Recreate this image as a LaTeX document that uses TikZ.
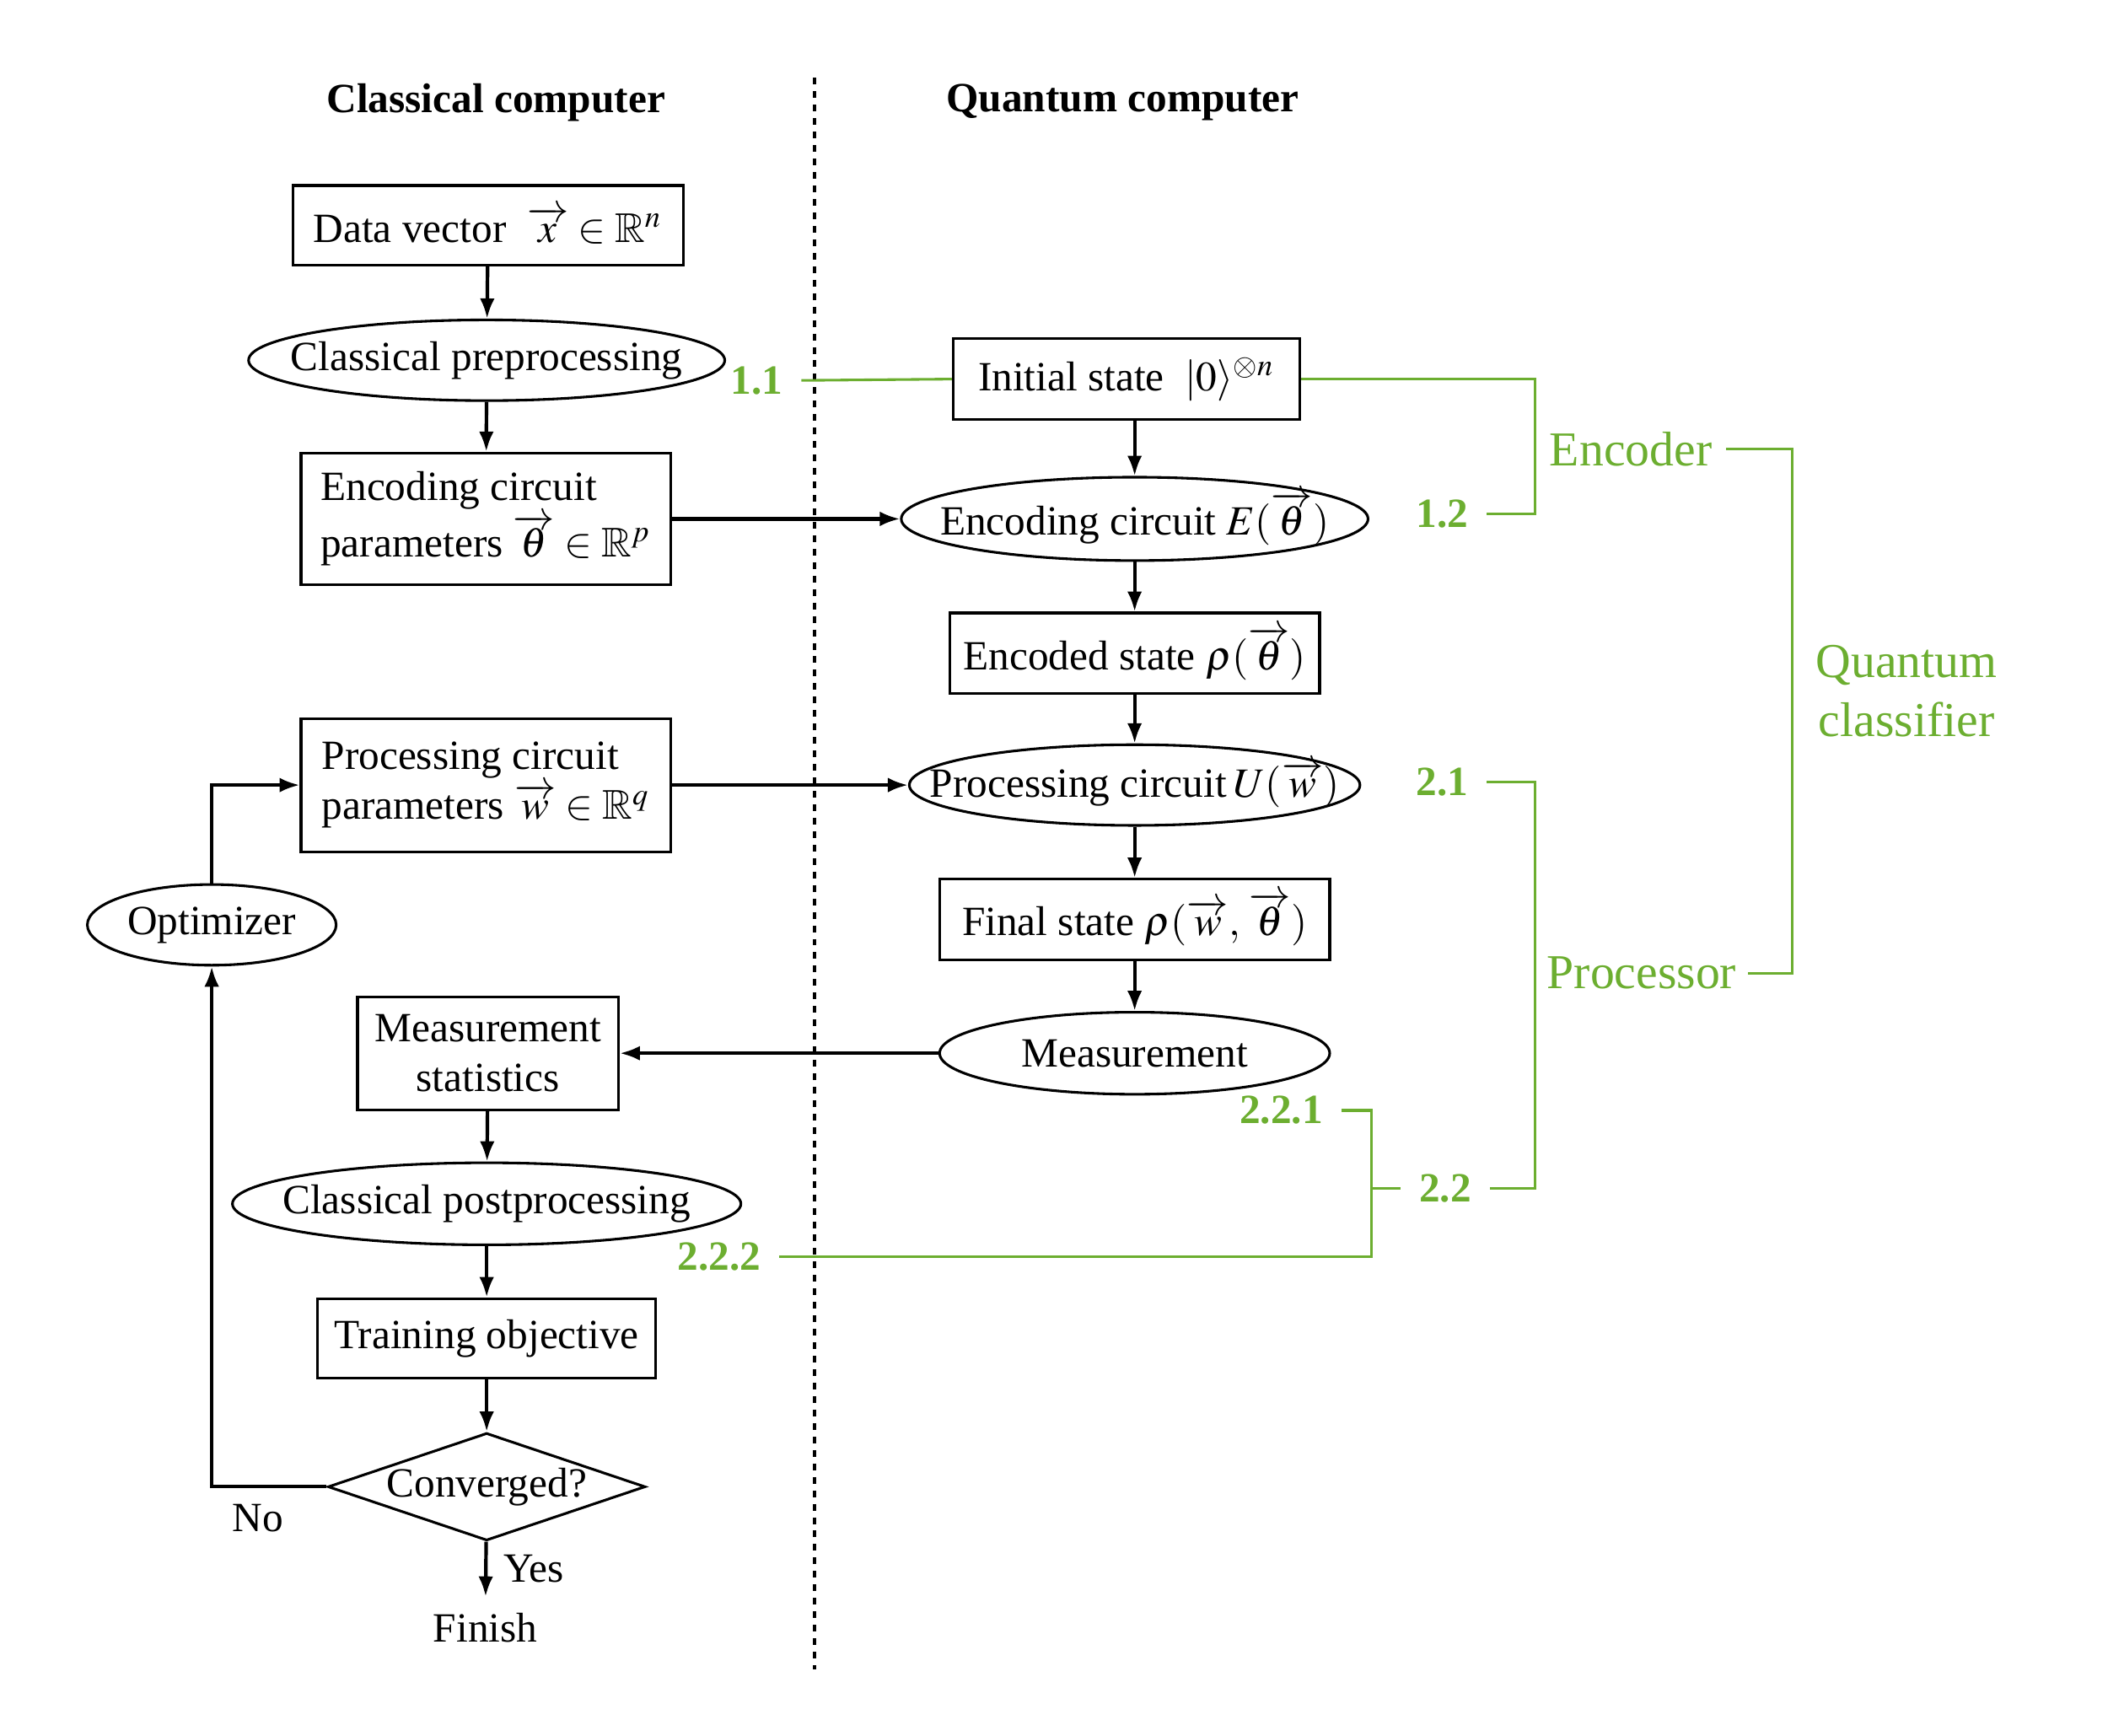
\documentclass[tikz,border=0pt]{standalone}
\usepackage{amssymb}
\usepackage{mathptmx}
\usepackage{fontspec}
\setmainfont{Liberation Serif}
\usetikzlibrary{shapes.geometric, arrows.meta, positioning}
\definecolor{qgreen}{RGB}{108,174,48}
\newcommand{\diagsize}{\fontsize{8.8}{10.6}\selectfont}
\newcommand{\nowidth}[1]{\makebox[0pt]{#1}}
\newcommand{\vectheta}{\overrightarrow{\rule{0pt}{0.78em}\theta}}
\newcommand{\veclow}[1]{\overrightarrow{\rule{0pt}{0.6em}#1}}

\begin{document}
\begin{tikzpicture}[
    x=0.01cm, y=-0.01cm,
    box/.style={draw, line width=0.55pt, inner sep=0pt, font=\diagsize},
    oval/.style={draw, ellipse, line width=0.55pt, inner sep=0pt, font=\diagsize},
    decision/.style={draw, diamond, aspect=3, line width=0.55pt, inner sep=0pt, font=\diagsize},
    plain/.style={font=\diagsize},
    title/.style={font=\diagsize\bfseries},
    flow/.style={-{Latex[length=1.5mm, width=1.1mm]}, line width=0.75pt},
    divider/.style={line width=0.7pt, dash pattern=on 0.05cm off 0.05cm},
    num/.style={text=qgreen, font=\diagsize\bfseries, inner xsep=0.13cm},
    part/.style={text=qgreen, font=\fontsize{10.3}{12.5}\selectfont, align=center},
    bracket/.style={qgreen, line width=0.55pt}
]
    \useasboundingbox (0,0) rectangle (1568,1291);

    % Titles
    \node[title] (ctitle) at (369,76) {Classical computer};
    \node[title] (qtitle) at (835,76) {Quantum computer};

    % Divider
    \coordinate (divtop) at (606,58);
    \coordinate (divbot) at (606,1242);
    \draw[divider] (divtop) -- (divbot);

    % Classical computer
    \node[box, minimum width=2.9cm, minimum height=0.59cm] (data) at (363,167.5) {Data vector\ \ $\veclow{x} \in \mathbb{R}^n$};
    \node[oval, minimum width=3.54cm, minimum height=0.6cm] (prep) at (362,268) {\nowidth{Classical preprocessing}};
    \node[box, align=left, minimum width=2.75cm, minimum height=0.98cm] (encpar) at (361.5,386) {Encoding circuit\\parameters $\vectheta \in \mathbb{R}^p$};
    \node[box, align=left, minimum width=2.75cm, minimum height=0.99cm] (procpar) at (361.5,584) {Processing circuit\\parameters $\veclow{w} \in \mathbb{R}^q$};
    \node[oval, minimum width=1.85cm, minimum height=0.6cm] (opt) at (157.5,688) {\nowidth{Optimizer}};
    \node[box, align=center, minimum width=1.94cm, minimum height=0.84cm] (stats) at (363,783.5) {Measurement\\statistics};
    \node[oval, minimum width=3.78cm, minimum height=0.61cm] (post) at (362,895.5) {\nowidth{Classical postprocessing}};
    \node[box, minimum width=2.51cm, minimum height=0.59cm] (obj) at (362,995.5) {Training objective};
    \node[decision, minimum width=2.36cm, minimum height=0.8cm] (conv) at (362,1106) {\nowidth{Converged?}};
    \node[plain] (finish) at (361,1211) {Finish};

    % Quantum computer
    \node[box, minimum width=2.58cm, minimum height=0.6cm] (init) at (838,282) {Initial state\ \ $|0\rangle^{\otimes n}$};
    \node[oval, minimum width=3.47cm, minimum height=0.62cm] (enc) at (844,386) {\nowidth{Encoding circuit $E(\vectheta)$}};
    \node[box, minimum width=2.75cm, minimum height=0.6cm] (encd) at (844,486) {Encoded state\ $\rho(\vectheta)$};
    \node[oval, minimum width=3.35cm, minimum height=0.6cm] (proc) at (844,584) {\nowidth{Processing circuit\,$U(\veclow{w})$}};
    \node[box, minimum width=2.9cm, minimum height=0.6cm] (final) at (844,684) {Final state\ $\rho(\veclow{w},\,\vectheta)$};
    \node[oval, minimum width=2.9cm, minimum height=0.61cm] (meas) at (844,783.5) {\nowidth{Measurement}};

    % Flows
    \draw[flow] (data) -- (prep);
    \draw[flow] (prep) -- (encpar);
    \draw[flow] (encpar) -- (enc);
    \draw[flow] (procpar) -- (proc);
    \draw[flow] (enc.north |- init.south) -- (enc);
    \draw[flow] (enc) -- (encd);
    \draw[flow] (encd) -- (proc);
    \draw[flow] (proc) -- (final);
    \draw[flow] (final) -- (meas);
    \draw[flow] (meas) -- (stats);
    \draw[flow] (stats) -- (post);
    \draw[flow] (post) -- (obj);
    \draw[flow] (obj) -- (conv);
    \draw[flow] (conv) -- node[plain, right] {Yes} (finish);
    \draw[flow] (conv.west) -| node[plain, pos=0.3, below] {No} (opt.south);
    \draw[flow] (opt.north) |- (procpar.west);

    % Stage numbers
    \node[num] (l11) at (563,283) {1.1};
    \node[num] (l12) at (1073,382) {1.2};
    \node[num] (l21) at (1073,582) {2.1};
    \node[num] (l22) at (1075,884) {2.2};
    \node[num] (l221) at (953,826) {2.2.1};
    \node[num] (l222) at (535,935) {2.2.2};

    % Brackets
    \coordinate (encbr) at (1142,334);
    \coordinate (procbr) at (1142,724);
    \coordinate (measbr) at (1020,884);
    \coordinate (qcbr) at (1333,514);
    \node[part, anchor=west, inner xsep=0.1cm] (enco) at (encbr) {Encoder};
    \node[part, anchor=west, inner xsep=0.08cm] (proco) at (procbr) {Processor};
    \node[part, anchor=west, inner xsep=0.17cm] (qc) at (qcbr) {Quantum\\classifier};

    \draw[bracket] (l11.east) -- (init.west);
    \draw[bracket] (init.east) -| (encbr) |- (l12.east);
    \draw[bracket] (l21.east) -| (procbr) |- (l22.east);
    \draw[bracket] (l221.east) -| (measbr) |- (l222.east);
    \draw[bracket] (measbr) -- (l22.west);
    \draw[bracket] (enco.east) -| (qcbr) |- (proco.east);

\end{tikzpicture}
\end{document}
